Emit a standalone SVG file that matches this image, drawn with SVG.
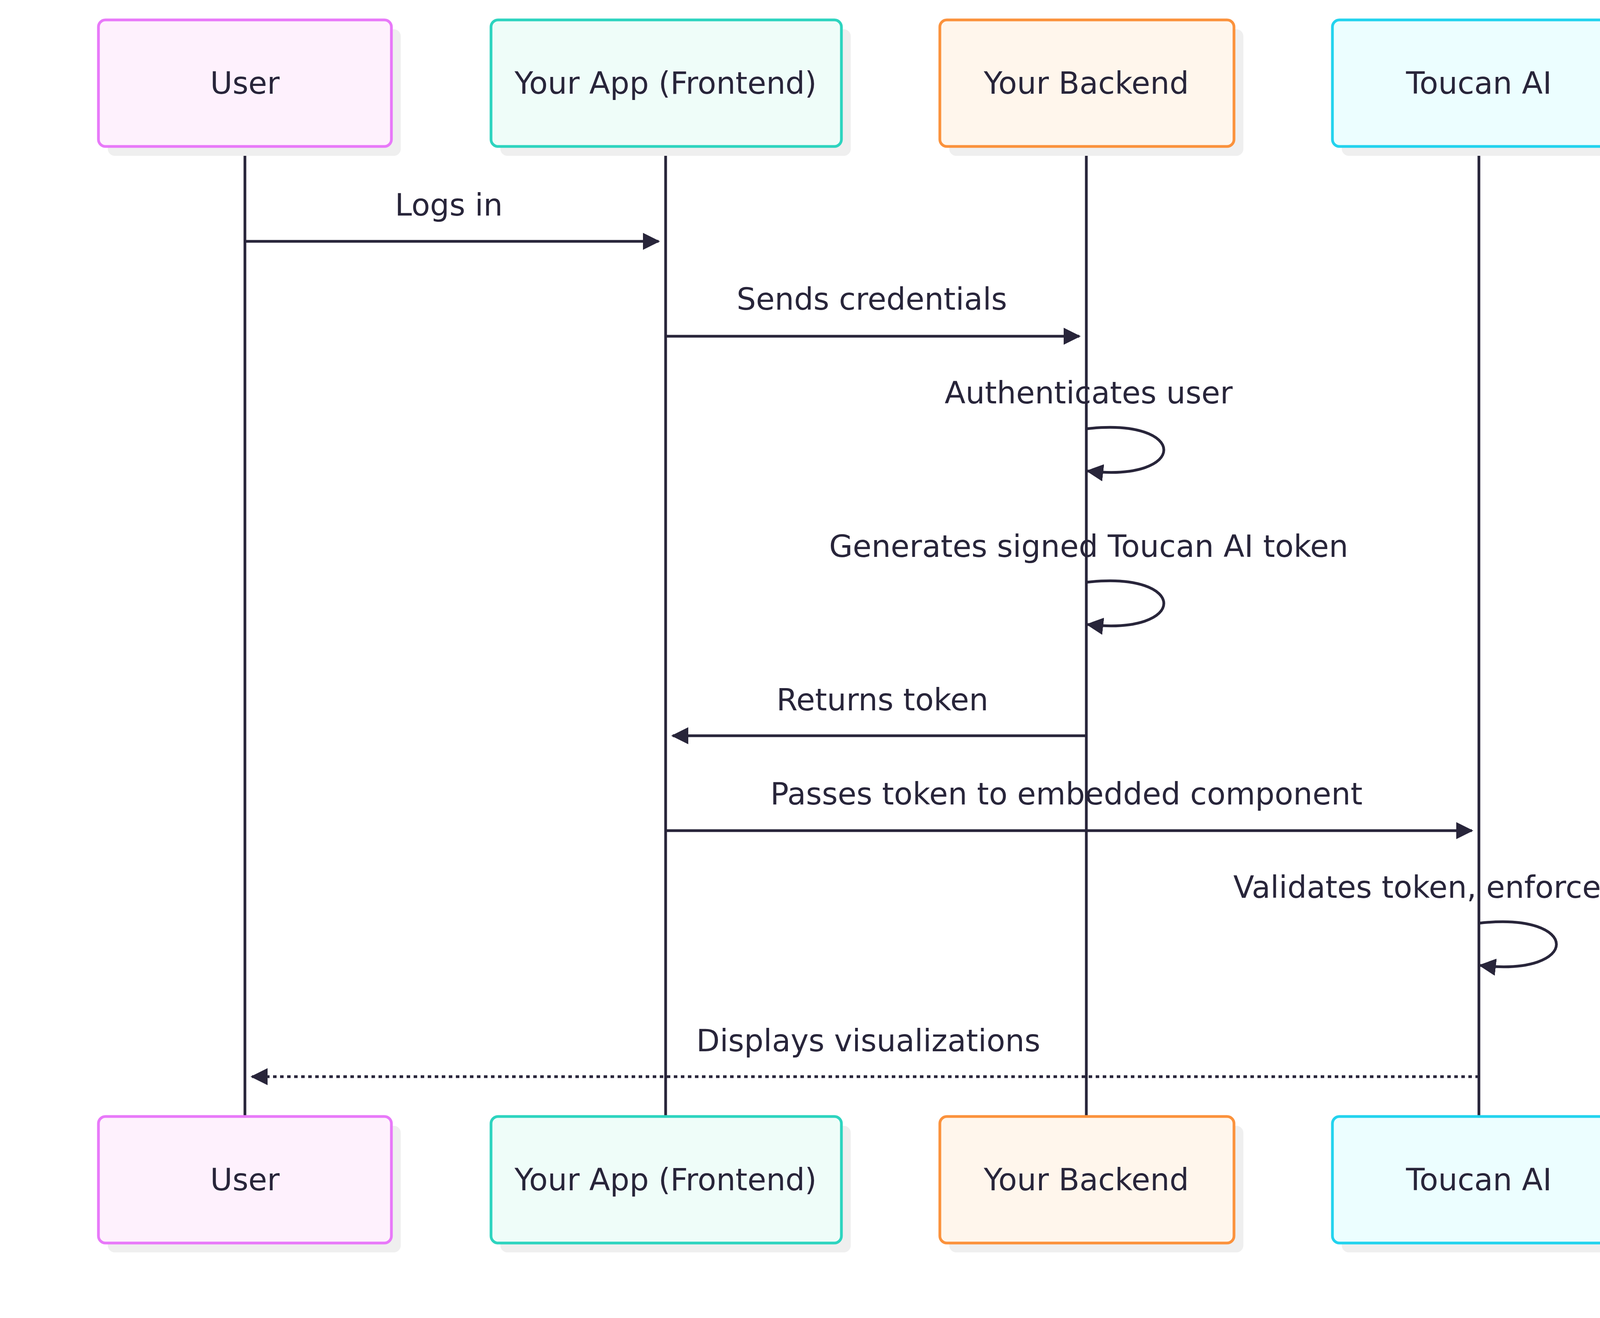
<svg xmlns="http://www.w3.org/2000/svg" width="4680" height="3375" viewBox="0 0 4680 3375">
<style>
text{font-family:"DejaVu Sans","Liberation Sans",sans-serif;font-size:78px;fill:#28253a;text-anchor:middle}
.box{stroke-width:7}
.sh{fill:#efefef}
.life{stroke:#28253a;stroke-width:7}
.msg{stroke:#28253a;stroke-width:7;fill:none}
</style>
<defs>
<marker id="a" viewBox="0 0 12 12" refX="11" refY="6" markerWidth="44" markerHeight="44" markerUnits="userSpaceOnUse" orient="auto"><path d="M0,0 L12,6 L0,12 Z" fill="#28253a"/></marker>
</defs>
<rect width="4680" height="3375" fill="#fff"/>
<g id="lifelines">
<line class="life" x1="627" y1="375" x2="627" y2="2859"/>
<line class="life" x1="1704" y1="375" x2="1704" y2="2859"/>
<line class="life" x1="2781" y1="375" x2="2781" y2="2859"/>
<line class="life" x1="3786" y1="375" x2="3786" y2="2859"/>
</g>
<g id="user-top"><rect class="sh" x="276" y="75" width="750" height="324" rx="18"/><rect class="box" x="252" y="51" width="750" height="324" rx="18" fill="#fef1fd" stroke="#e879f9"/><text x="627" y="240">User</text></g>
<g id="app-top"><rect class="sh" x="1281" y="75" width="897" height="324" rx="18"/><rect class="box" x="1257" y="51" width="897" height="324" rx="18" fill="#effdf9" stroke="#2dd4bf"/><text x="1704" y="240">Your App (Frontend)</text></g>
<g id="backend-top"><rect class="sh" x="2430" y="75" width="753" height="324" rx="18"/><rect class="box" x="2406" y="51" width="753" height="324" rx="18" fill="#fff6ec" stroke="#fb923c"/><text x="2781" y="240">Your Backend</text></g>
<g id="toucan-top"><rect class="sh" x="3435" y="75" width="753" height="324" rx="18"/><rect class="box" x="3411" y="51" width="753" height="324" rx="18" fill="#ecfeff" stroke="#22d3ee"/><text x="3786" y="240">Toucan AI</text></g>
<g id="user-bot"><rect class="sh" x="276" y="2883" width="750" height="324" rx="18"/><rect class="box" x="252" y="2859" width="750" height="324" rx="18" fill="#fef1fd" stroke="#e879f9"/><text x="627" y="3048">User</text></g>
<g id="app-bot"><rect class="sh" x="1281" y="2883" width="897" height="324" rx="18"/><rect class="box" x="1257" y="2859" width="897" height="324" rx="18" fill="#effdf9" stroke="#2dd4bf"/><text x="1704" y="3048">Your App (Frontend)</text></g>
<g id="backend-bot"><rect class="sh" x="2430" y="2883" width="753" height="324" rx="18"/><rect class="box" x="2406" y="2859" width="753" height="324" rx="18" fill="#fff6ec" stroke="#fb923c"/><text x="2781" y="3048">Your Backend</text></g>
<g id="toucan-bot"><rect class="sh" x="3435" y="2883" width="753" height="324" rx="18"/><rect class="box" x="3411" y="2859" width="753" height="324" rx="18" fill="#ecfeff" stroke="#22d3ee"/><text x="3786" y="3048">Toucan AI</text></g>
<g id="connectors">
<line class="msg" x1="627" y1="618" x2="1686" y2="618" marker-end="url(#a)"/>
<text x="1149" y="552">Logs in</text>
<line class="msg" x1="1704" y1="861" x2="2763" y2="861" marker-end="url(#a)"/>
<text x="2232" y="793">Sends credentials</text>
<path class="msg" d="M2781,1098 C3045,1068 3045,1236 2784,1206" marker-end="url(#a)"/>
<text x="2787" y="1033">Authenticates user</text>
<path class="msg" d="M2781,1491 C3045,1461 3045,1629 2784,1599" marker-end="url(#a)"/>
<text x="2787" y="1426">Generates signed Toucan AI token</text>
<line class="msg" x1="2781" y1="1884" x2="1722" y2="1884" marker-end="url(#a)"/>
<text x="2259" y="1819">Returns token</text>
<line class="msg" x1="1704" y1="2127" x2="3768" y2="2127" marker-end="url(#a)"/>
<text x="2730" y="2060">Passes token to embedded component</text>
<path class="msg" d="M3786,2364 C4050,2334 4050,2502 3789,2472" marker-end="url(#a)"/>
<text x="3792" y="2299">Validates token, enforces access</text>
<line class="msg" x1="3786" y1="2757" x2="645" y2="2757" stroke-dasharray="9,9" marker-end="url(#a)"/>
<text x="2223" y="2692">Displays visualizations</text>
</g>
</svg>
